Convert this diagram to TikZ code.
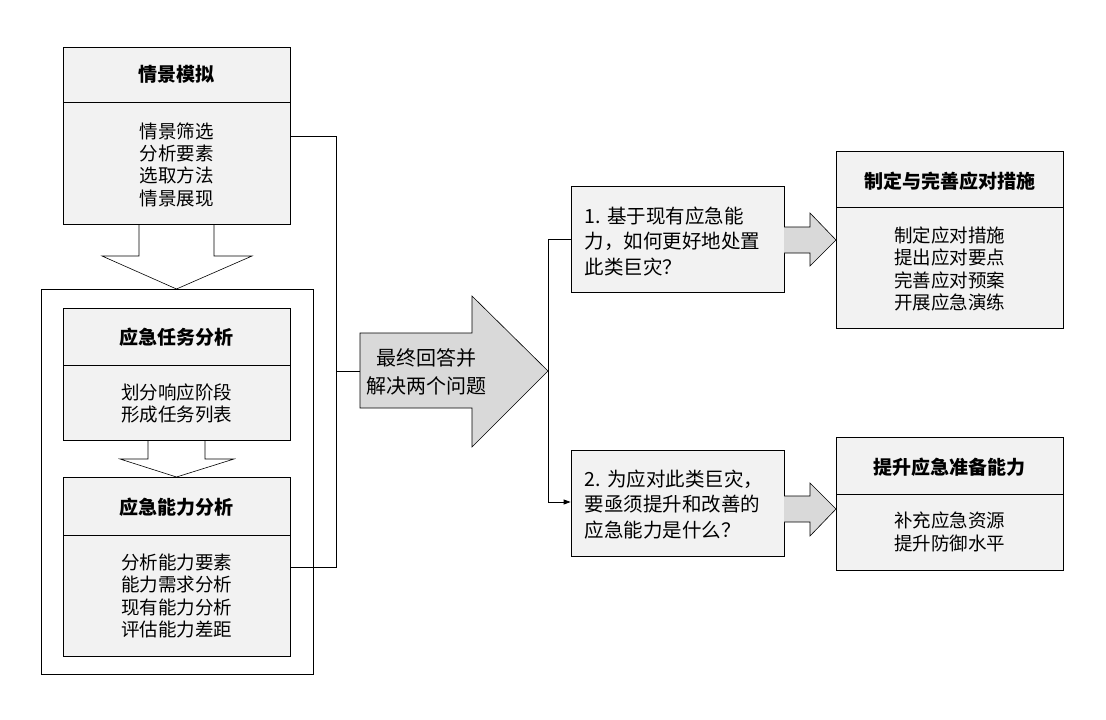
\documentclass[tikz,border=0pt]{standalone}
\usepackage{fontspec}
\setmainfont{Noto Sans CJK SC}
\usetikzlibrary{arrows.meta}
\begin{document}
\begin{tikzpicture}[x=1pt,y=-1pt,
  box/.style={draw,fill=boxgray,line width=0.8pt,inner sep=0pt},
  hdr/.style={font=\fontsize{19}{22}\selectfont\bfseries},
  body/.style={font=\fontsize{18.5}{22.3}\selectfont,align=center},
  qtext/.style={font=\fontsize{19.5}{25.5}\selectfont,align=left,text width=192pt},
  fat/.style={draw,fill=arrgray,line width=0.6pt},
  line/.style={line width=0.8pt}]
\definecolor{boxgray}{HTML}{F2F2F2}
\definecolor{arrgray}{HTML}{D9D9D9}
\useasboundingbox (0,0) rectangle (1106,720);
% left column
\node[box,minimum width=227pt,minimum height=177pt] (qm) at (176.5,135.5) {};
\draw[line] (63,102) -- (290,102);
\node[hdr] (qmh) at (176.5,74) {情景模拟};
\node[body] (qmb) at (176.5,164.5) {情景筛选\\分析要素\\选取方法\\情景展现};
\draw[line width=0.6pt] (139,224) -- (139,256) -- (102,256) -- (176.5,289) -- (252,256) -- (214,256) -- (214,224);
\node[draw,line width=0.8pt,minimum width=272pt,minimum height=385pt] (frame) at (177,481.5) {};
\node[box,minimum width=227pt,minimum height=132pt] (rw) at (176.5,374) {};
\draw[line] (63,365) -- (290,365);
\node[hdr] (rwh) at (176.5,337) {应急任务分析};
\node[body] (rwb) at (176.5,403.5) {划分响应阶段\\形成任务列表};
\draw[line width=0.6pt] (148,440) -- (148,459) -- (120,459) -- (176.5,477) -- (234,459) -- (205,459) -- (205,440);
\node[box,minimum width=227pt,minimum height=179pt] (nl) at (176.5,566.5) {};
\draw[line] (63,535) -- (290,535);
\node[hdr] (nlh) at (176.5,507) {应急能力分析};
\node[body] (nlb) at (176.5,596) {分析能力要素\\能力需求分析\\现有能力分析\\评估能力差距};
% connector
\coordinate (c1) at (336,136.5);
\coordinate (c2) at (336,567);
\coordinate (c3) at (336,371);
\draw[line] (qm.east |- c1) -- (c1) -- (c2) -- (nl.east |- c2);
% big arrow
\draw[fat] (360,333) -- (472,333) -- (472,296) -- (548,371) -- (472,447) -- (472,408) -- (360,408) -- cycle;
\coordinate (big) at (360,371);
\node[font=\fontsize{20}{28}\selectfont,align=center] (bigt) at (426,372) {最终回答并\\解决两个问题};
\draw[line] (c3) -- (big);
% right questions
\node[box,minimum width=213pt,minimum height=106pt] (q1) at (677.5,239.5) {};
\node[qtext,anchor=north west] at (581,203) {1.\ 基于现有应急能\\力，如何更好地处置\\此类巨灾？};
\node[box,minimum width=213pt,minimum height=106pt] (q2) at (677.5,503) {};
\node[qtext,anchor=north west] at (581,466) {2.\ 为应对此类巨灾，\\要亟须提升和改善的\\应急能力是什么？};
\coordinate (v1) at (548,239);
\coordinate (v2) at (548,502);
\draw[line] (q1.west |- v1) -- (v1) -- (v2);
\draw[line,-{Triangle[length=7pt,width=5pt]}] (v2) -- (q2.west |- v2);
% small arrows
\draw[fat] (784,227) -- (810,227) -- (810,213) -- (836,240) -- (810,266) -- (810,253) -- (784,253);
\draw[fat] (784,496) -- (810,496) -- (810,483) -- (836,509) -- (810,536) -- (810,522) -- (784,522);
% right boxes
\node[box,minimum width=227pt,minimum height=177pt] (r1) at (949.5,239.5) {};
\draw[line] (836,207) -- (1063,207);
\node[hdr] at (949.5,181) {制定与完善应对措施};
\node[body] at (949.5,269) {制定应对措施\\提出应对要点\\完善应对预案\\开展应急演练};
\node[box,minimum width=227pt,minimum height=133pt] (r2) at (949.5,503.5) {};
\draw[line] (836,494) -- (1063,494);
\node[hdr] at (949.5,467) {提升应急准备能力};
\node[body] at (949.5,532) {补充应急资源\\提升防御水平};
\end{tikzpicture}
\end{document}
